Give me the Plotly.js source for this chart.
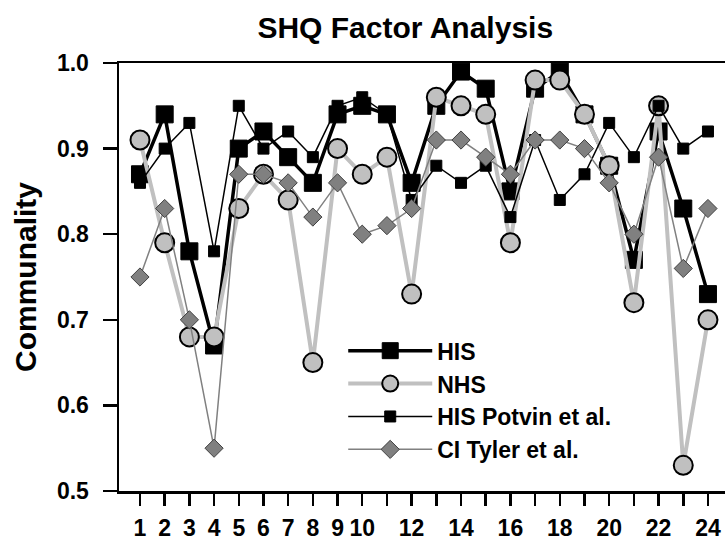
<!DOCTYPE html>
<html>
<head>
<meta charset="utf-8">
<script src="https://cdn.plot.ly/plotly-3.0.1.min.js"></script>
<style>html,body{margin:0;padding:0;background:#fff;}#chart{width:725px;height:543px;}</style>
</head>
<body>
<div id="chart"></div>
<script>
const items = [1,2,3,4,5,6,7,8,9,10,11,12,13,14,15,16,17,18,19,20,21,22,23,24];
const tickLabels = ["1","2","3","4","5","6","7","8","9","10","","12","","14","","16","","18","","20","","22","","24"];
const yTickVals = [0.5,0.6,0.7,0.8,0.9,1.0];
const yTickLabels = ["0.5","0.6","0.7","0.8","0.9","1.0"];
const his     = [0.87,0.94,0.78,0.67,0.90,0.92,0.89,0.86,0.94,0.95,0.94,0.86,0.95,0.99,0.97,0.85,0.97,0.99,0.94,0.88,0.77,0.92,0.83,0.73];
const nhs     = [0.91,0.79,0.68,0.68,0.83,0.87,0.84,0.65,0.90,0.87,0.89,0.73,0.96,0.95,0.94,0.79,0.98,0.98,0.94,0.88,0.72,0.95,0.53,0.70];
const potvin  = [0.86,0.90,0.93,0.78,0.95,0.90,0.92,0.89,0.95,0.96,0.94,0.84,0.88,0.86,0.88,0.82,0.91,0.84,0.87,0.93,0.89,0.95,0.90,0.92];
const tyler   = [0.75,0.83,0.70,0.55,0.87,0.87,0.86,0.82,0.86,0.80,0.81,0.83,0.91,0.91,0.89,0.87,0.91,0.91,0.90,0.86,0.80,0.89,0.76,0.83];

const F = "Liberation Sans, Arial, sans-serif";
const traces = [
  {x: items, y: his, name: "HIS", mode: "lines+markers",
   line: {color: "#000", width: 3.5},
   marker: {symbol: "square", size: 17, color: "#000", line: {color: "#000", width: 1}}},
  {x: items, y: nhs, name: "NHS", mode: "lines+markers",
   line: {color: "#c0c0c0", width: 4},
   marker: {symbol: "circle", size: 19, color: "#c0c0c0", line: {color: "#000", width: 2}}},
  {x: items, y: potvin, name: "HIS Potvin et al.", mode: "lines+markers",
   line: {color: "#000", width: 1.5},
   marker: {symbol: "square", size: 11, color: "#000", line: {color: "#000", width: 1}}},
  {x: items, y: tyler, name: "CI Tyler et al.", mode: "lines+markers",
   line: {color: "#808080", width: 1.5},
   marker: {symbol: "diamond", size: 14, color: "#808080", line: {color: "#404040", width: 1}}}
];

const layout = {
  width: 725, height: 543,
  margin: {l: 119, r: 0, t: 63, b: 52},
  paper_bgcolor: "#fff", plot_bgcolor: "#fff",
  font: {family: F, color: "#000"},
  title: {text: "<b>SHQ Factor Analysis</b>", font: {family: F, size: 30, color: "#000"},
          x: 0.559, xref: "container", xanchor: "center", y: 0.95, yref: "container", yanchor: "middle"},
  xaxis: {range: [0.15, 24.69], tickvals: items, ticktext: tickLabels, automargin: false,
          showgrid: false, zeroline: false, showline: true, linewidth: 2.5, linecolor: "#000",
          mirror: true, ticks: "outside", ticklen: 12, tickwidth: 2.5, tickcolor: "#000",
          ticklabelstandoff: 3,
          tickfont: {family: F, size: 23, color: "#000", weight: "bold"}, tickangle: 0},
  yaxis: {range: [0.5, 1.0], tickvals: yTickVals, ticktext: yTickLabels, automargin: false,
          showgrid: false, zeroline: false, showline: true, linewidth: 2.5, linecolor: "#000",
          ticks: "outside", ticklen: 14, tickwidth: 2.5, tickcolor: "#000",
          ticklabelstandoff: 9,
          tickfont: {family: F, size: 23, color: "#000", weight: "bold"},
          title: {text: "<b>Communality</b>", font: {family: F, size: 30, color: "#000"}, standoff: 12}},
  showlegend: true,
  legend: {x: 0.37, y: 0.378, xanchor: "left", yanchor: "top", bgcolor: "rgba(0,0,0,0)",
           font: {family: F, size: 23, color: "#000", weight: "bold"},
           traceorder: "normal", itemwidth: 84}
};

Plotly.newPlot("chart", traces, layout, {displayModeBar: false, staticPlot: true});
</script>
</body>
</html>
